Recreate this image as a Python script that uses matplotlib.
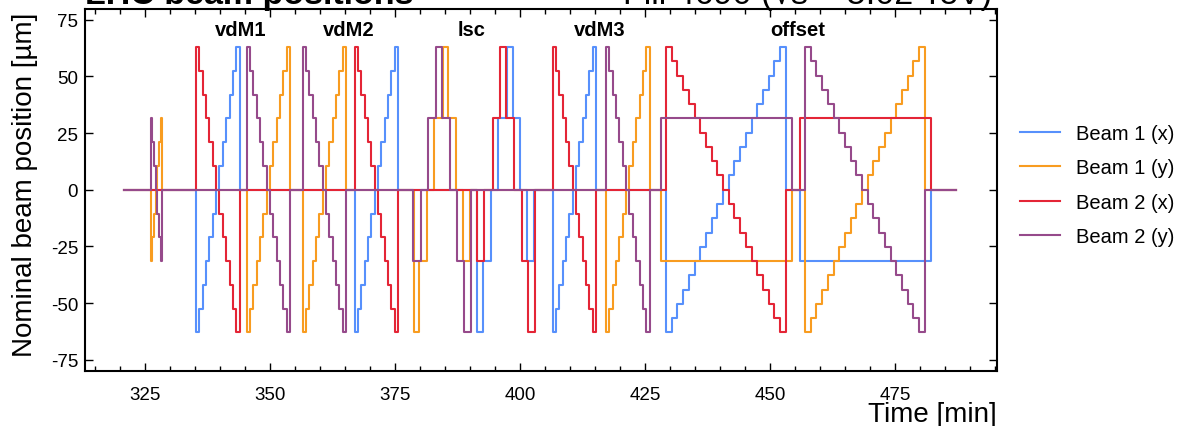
import numpy as np
import matplotlib.pyplot as plt

# time range of the record [min]
T_FIRST, T_LAST = 320.8, 487.2

# step levels [um]; beam 2 runs through them top to bottom, beam 1 bottom to top
VDM_LEVELS = [63, 52.5, 42, 31.5, 21, 10.5, 0, -10.5, -21, -31.5, -42, -52.5, -63]
PRE_LEVELS = [31.5, 21, 10.5, 0, -10.5, -21, -31.5]
OFF_LEVELS = [63, 56.7, 50.4, 44.1, 37.8, 31.5, 25.2, 18.9, 12.6, 6.3, 0,
              -6.3, -12.6, -18.9, -25.2, -31.5, -37.8, -44.1, -50.4, -56.7, -63]

# duration of one step [min]
VDM_STEP = 0.67
PRE_STEP = 0.34
OFF_STEP = 1.14

# scan start times [min]
X_SCANS = [335.2, 366.9, 406.5]
Y_SCANS = [345.3, 356.5, 417.2]
PRE_Y_SCAN = 326.1
OFF_X_SCAN = 429.2
OFF_Y_SCAN = 457.0

# fixed separation held during the offset scans (start, end)
OFF_Y_HOLD = (428.1, 454.3)
OFF_X_HOLD = (455.9, 482.1)
HOLD_POS = 31.5

# length scale calibration: positions of each beam and the switching times
LSC_B1_POS = [-63, -31.5, 0, 31.5, 63, 31.5, 0, -31.5, 0]
LSC_B2_POS = [-31.5, 0, 31.5, 63, 31.5, 0, -31.5, -63, 0]
LSC_B1X_T = [391.47, 392.67, 394.13, 395.67, 397.33, 398.53, 400.0, 401.47, 402.87]
LSC_B2X_T = [391.33, 392.8, 394.53, 396.0, 397.2, 398.8, 400.33, 401.67, 403.0]
LSC_B1Y_T = [378.8, 379.87, 381.33, 382.8, 384.53, 385.67, 387.2, 388.67, 390.0]
LSC_B2Y_T = [378.67, 380.13, 381.67, 383.2, 384.33, 386.0, 387.47, 388.87, 390.13]

SCAN_NAMES = ["vdM1", "vdM2", "lsc", "vdM3", "offset"]
SCAN_NAME_T = [344.2, 365.8, 390.4, 416.0, 455.6]
SCAN_NAME_Y = 70.6

LABELS = ["Beam 1 (x)", "Beam 1 (y)", "Beam 2 (x)", "Beam 2 (y)"]
COLORS = ["#5790fc", "#f89c20", "#e42536", "#964a8b"]


def add_scan(pts, t0, step, levels):
    for i, v in enumerate(levels):
        pts.append((t0 + i * step, v))
    pts.append((t0 + len(levels) * step, 0))


def add_hold(pts, hold, value):
    pts.append((hold[0], value))
    pts.append((hold[1], 0))


b1x = [(T_FIRST, 0)]
b2x = [(T_FIRST, 0)]
b1y = [(T_FIRST, 0)]
b2y = [(T_FIRST, 0)]

for t0 in X_SCANS:
    add_scan(b1x, t0, VDM_STEP, VDM_LEVELS[::-1])
    add_scan(b2x, t0, VDM_STEP, VDM_LEVELS)
for t0 in Y_SCANS:
    add_scan(b1y, t0, VDM_STEP, VDM_LEVELS[::-1])
    add_scan(b2y, t0, VDM_STEP, VDM_LEVELS)
add_scan(b1y, PRE_Y_SCAN, PRE_STEP, PRE_LEVELS[::-1])
add_scan(b2y, PRE_Y_SCAN, PRE_STEP, PRE_LEVELS)

b1x += list(zip(LSC_B1X_T, LSC_B1_POS))
b2x += list(zip(LSC_B2X_T, LSC_B2_POS))
b1y += list(zip(LSC_B1Y_T, LSC_B1_POS))
b2y += list(zip(LSC_B2Y_T, LSC_B2_POS))

add_scan(b1x, OFF_X_SCAN, OFF_STEP, OFF_LEVELS[::-1])
add_scan(b2x, OFF_X_SCAN, OFF_STEP, OFF_LEVELS)
add_hold(b1y, OFF_Y_HOLD, -HOLD_POS)
add_hold(b2y, OFF_Y_HOLD, HOLD_POS)
add_scan(b1y, OFF_Y_SCAN, OFF_STEP, OFF_LEVELS[::-1])
add_scan(b2y, OFF_Y_SCAN, OFF_STEP, OFF_LEVELS)
add_hold(b1x, OFF_X_HOLD, -HOLD_POS)
add_hold(b2x, OFF_X_HOLD, HOLD_POS)

for pts in (b1x, b2x, b1y, b2y):
    pts.append((T_LAST, 0))
    pts.sort()

plt.rcParams["font.family"] = ["Liberation Sans", "DejaVu Sans"]
plt.rcParams["axes.unicode_minus"] = False

fig = plt.figure(figsize=(11.93, 4.27), dpi=100)
ax = fig.add_axes([85 / 1193, 1 - 372 / 427, 912 / 1193, 362.5 / 427])

for pts, lab, col in zip((b1x, b1y, b2x, b2y), LABELS, COLORS):
    t, v = np.array(pts).T
    ax.plot(t, v, drawstyle="steps-post", color=col, lw=1.5, label=lab)

for name, t in zip(SCAN_NAMES, SCAN_NAME_T):
    ax.text(t, SCAN_NAME_Y, name, ha="center", va="center",
            fontsize=14.5, fontweight="bold")

ax.set_xlim(313, 495.4)
ax.set_ylim(-80, 80)
ax.set_xticks(np.arange(325, 480, 25))
ax.set_xticks(np.arange(315, 496, 5), minor=True)
ax.set_yticks(np.arange(-75, 80, 25))
ax.tick_params(which="both", direction="in", top=True, right=True,
               labelsize=13.5, width=1)
ax.tick_params(which="major", length=6)
ax.tick_params(which="minor", length=3.5)
ax.tick_params(axis="x", pad=11)
ax.tick_params(axis="y", pad=5)
for s in ax.spines.values():
    s.set_linewidth(1.5)

ax.set_xlabel("Time [min]", fontsize=20, loc="right")
ax.xaxis.set_label_coords(1.0, -0.083)
ax.set_ylabel("Nominal beam position [µm]", fontsize=20, loc="top")
ax.yaxis.set_label_coords(-0.052, 0.99)

fig.text(85 / 1193, 1 - 4 / 427, "LHC beam positions", fontsize=24.5,
         fontweight="bold", ha="left", va="baseline")
fig.text(992 / 1193, 1 - 4 / 427, "Fill 4690 (√s = 5.02 TeV)", fontsize=24.5,
         ha="right", va="baseline")

fig.legend(loc="center left", bbox_to_anchor=(1002 / 1193, 1 - 186 / 427),
           frameon=False, fontsize=14.5, handlelength=2.0,
           handletextpad=0.75, labelspacing=0.75)

fig.savefig("out.png", dpi=100)
